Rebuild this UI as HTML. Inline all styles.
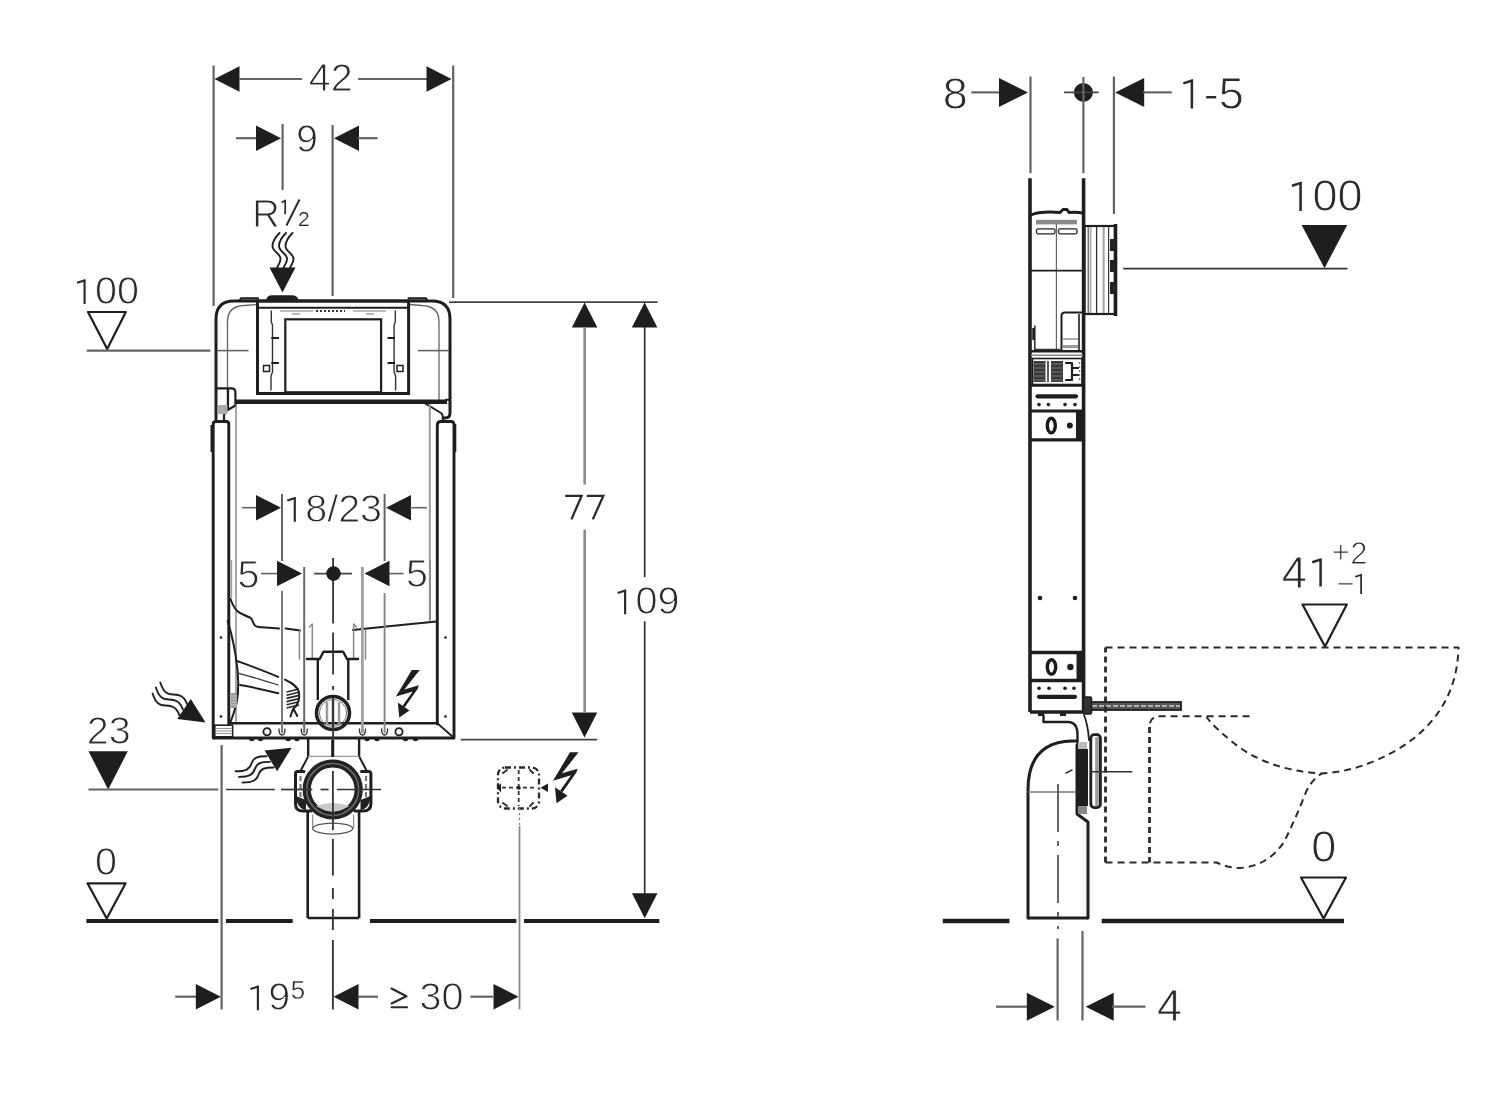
<!DOCTYPE html>
<html><head><meta charset="utf-8"><style>
html,body{margin:0;padding:0;background:#fff;}
svg{display:block;will-change:transform;}
text{font-family:"Liberation Sans",sans-serif;}
</style></head><body>
<svg width="1500" height="1100" viewBox="0 0 1500 1100">
<rect width="1500" height="1100" fill="#fff"/>
<line x1="213.6" y1="65.5" x2="213.6" y2="306" stroke="#646464" stroke-width="2.2" stroke-linecap="butt"/>
<line x1="453.2" y1="65.5" x2="453.2" y2="298" stroke="#646464" stroke-width="2.2" stroke-linecap="butt"/>
<polygon points="214.5,79 239.5,66.25 239.5,91.75" fill="#1e1e1e" stroke="none" stroke-width="0" stroke-linejoin="round"/>
<line x1="239" y1="79" x2="302" y2="79" stroke="#646464" stroke-width="2.2" stroke-linecap="butt"/>
<line x1="358" y1="79" x2="427" y2="79" stroke="#646464" stroke-width="2.2" stroke-linecap="butt"/>
<polygon points="451.5,79 426.5,66.25 426.5,91.75" fill="#1e1e1e" stroke="none" stroke-width="0" stroke-linejoin="round"/>
<text transform="scale(1.04,1)" x="296.81" y="91.2" font-size="38" fill="#2b2b2b" stroke="#fff" stroke-width="0.9">42</text>
<line x1="236" y1="138.2" x2="257" y2="138.2" stroke="#646464" stroke-width="2.2" stroke-linecap="butt"/>
<polygon points="281,138.2 256,125.45 256,150.95" fill="#1e1e1e" stroke="none" stroke-width="0" stroke-linejoin="round"/>
<line x1="282.6" y1="124" x2="282.6" y2="190" stroke="#646464" stroke-width="2.2" stroke-linecap="butt"/>
<line x1="332.6" y1="125" x2="332.6" y2="296" stroke="#646464" stroke-width="2.2" stroke-linecap="butt"/>
<polygon points="334,138.2 359,125.45 359,150.95" fill="#1e1e1e" stroke="none" stroke-width="0" stroke-linejoin="round"/>
<line x1="358" y1="138.2" x2="377.5" y2="138.2" stroke="#646464" stroke-width="2.2" stroke-linecap="butt"/>
<text transform="scale(1.04,1)" x="284.69" y="151.7" font-size="38" fill="#2b2b2b" stroke="#fff" stroke-width="0.9">9</text>
<text x="252.15" y="226.7" font-size="38" fill="#2b2b2b" stroke="#fff" stroke-width="0.9">R</text>
<path d="M285.2 214.3 L285.2 199.8 M285.7 200.3 L281.6 202.6" fill="none" stroke="#2b2b2b" stroke-width="1.7" stroke-linejoin="miter" stroke-linecap="butt" />
<text x="298.1" y="225.7" font-size="21" fill="#2b2b2b" stroke="#fff" stroke-width="0.2">2</text>
<line x1="286.5" y1="225.5" x2="299.5" y2="199.5" stroke="#2b2b2b" stroke-width="2" stroke-linecap="butt"/>
<path d="M279.5 233 C 276.5 236, 272.5 240, 272.5 246 C 272.5 252, 280.5 253, 280.5 259 C 280.5 263, 277.5 266, 277 268" fill="none" stroke="#222" stroke-width="1.9" stroke-linejoin="round" stroke-linecap="round" />
<path d="M286 233 C 283 236, 279 240, 279 246 C 279 252, 287 253, 287 259 C 287 263, 284 266, 283.5 268" fill="none" stroke="#222" stroke-width="1.9" stroke-linejoin="round" stroke-linecap="round" />
<path d="M292.5 233 C 289.5 236, 285.5 240, 285.5 246 C 285.5 252, 293.5 253, 293.5 259 C 293.5 263, 290.5 266, 290 268" fill="none" stroke="#222" stroke-width="1.9" stroke-linejoin="round" stroke-linecap="round" />
<polygon points="282.5,292.6 269.5,267.6 295.5,267.6" fill="#1e1e1e" stroke="none" stroke-width="0" stroke-linejoin="round"/>
<path d="M267.5 300 Q268 296.5 272 296.5 L292 296.5 Q296.5 296.5 297 300" fill="none" stroke="#1e1e1e" stroke-width="2.5" stroke-linejoin="round" stroke-linecap="round" />
<text transform="scale(1.04,1)" x="70.21" y="304.1" font-size="38" fill="#2b2b2b" stroke="#fff" stroke-width="0.9">&#8199;00</text>
<path d="M84.58 304.1 L84.58 279.89 M85.66 280.13 L77.07 282.82" stroke="#2b2b2b" stroke-width="2.17" stroke-linecap="butt" stroke-linejoin="miter" fill="none"/>
<polygon points="88,312 125.8,312 107.2,349" fill="none" stroke="#1e1e1e" stroke-width="2.2" stroke-linejoin="round"/>
<line x1="86.8" y1="350.6" x2="210.4" y2="350.6" stroke="#646464" stroke-width="2.2" stroke-linecap="butt"/>
<line x1="217.6" y1="350.6" x2="248.5" y2="350.6" stroke="#646464" stroke-width="1.6" stroke-linecap="butt"/>
<line x1="418" y1="350.6" x2="448.5" y2="350.6" stroke="#646464" stroke-width="1.6" stroke-linecap="butt"/>
<path d="M216 419 L216 319 Q216 301 234 301 L258 301 M408.6 301 L432 301 Q450 301 450 319 L450 413 Q450 418 445 418 L443 418" fill="none" stroke="#1e1e1e" stroke-width="3" stroke-linejoin="round" stroke-linecap="round" />
<path d="M240 300.5 L241 298.3 L258 298.3 M408.6 298.3 L426 298.3 L427 300.5" fill="none" stroke="#1e1e1e" stroke-width="2.2" stroke-linejoin="round" stroke-linecap="round" />
<path d="M227.5 408 L227.5 322 Q227.5 306 244 305.5 L257 304.5" fill="none" stroke="#646464" stroke-width="1.3" stroke-linejoin="round" stroke-linecap="round" />
<path d="M439 400 L439 322 Q439 306 422 305.5 L409 304.5" fill="none" stroke="#646464" stroke-width="1.3" stroke-linejoin="round" stroke-linecap="round" />
<line x1="258" y1="301" x2="408.6" y2="301" stroke="#1e1e1e" stroke-width="3" stroke-linecap="butt"/>
<rect x="267.7" y="297" width="27.6" height="4" rx="0" fill="#1e1e1e" stroke="#1e1e1e" stroke-width="0"/>
<rect x="257.5" y="301" width="151.1" height="92.5" rx="0" fill="none" stroke="#1e1e1e" stroke-width="3"/>
<line x1="258" y1="307.8" x2="408" y2="307.8" stroke="#1e1e1e" stroke-width="2" stroke-linecap="butt"/>
<rect x="285.3" y="319.3" width="95.8" height="73" rx="0" fill="none" stroke="#1e1e1e" stroke-width="2.2"/>
<path d="M271.3 311 L271.3 322 L272.5 325 L272.5 372 L271 376 L271 390" fill="none" stroke="#333" stroke-width="1.4" stroke-linejoin="round" stroke-linecap="round" />
<path d="M395.3 311 L395.3 322 L394.1 325 L394.1 372 L395.6 376 L395.6 390" fill="none" stroke="#333" stroke-width="1.4" stroke-linejoin="round" stroke-linecap="round" />
<line x1="271.3" y1="338" x2="279" y2="338" stroke="#1e1e1e" stroke-width="2" stroke-linecap="butt"/>
<line x1="271.3" y1="363" x2="279" y2="363" stroke="#1e1e1e" stroke-width="2" stroke-linecap="butt"/>
<line x1="387.5" y1="338" x2="395" y2="338" stroke="#1e1e1e" stroke-width="2" stroke-linecap="butt"/>
<line x1="387.5" y1="363" x2="395" y2="363" stroke="#1e1e1e" stroke-width="2" stroke-linecap="butt"/>
<rect x="263.5" y="365.5" width="6" height="6" rx="0" fill="none" stroke="#1e1e1e" stroke-width="1.5"/>
<rect x="397" y="365.5" width="6" height="6" rx="0" fill="none" stroke="#1e1e1e" stroke-width="1.5"/>
<line x1="280" y1="311" x2="313" y2="311" stroke="#aaa" stroke-width="1.4" stroke-linecap="butt"/>
<line x1="316" y1="311" x2="345" y2="311" stroke="#333" stroke-width="2" stroke-linecap="butt" stroke-dasharray="2 2"/>
<line x1="353" y1="311" x2="386" y2="311" stroke="#aaa" stroke-width="1.4" stroke-linecap="butt"/>
<line x1="292" y1="314" x2="300" y2="314" stroke="#999" stroke-width="1.4" stroke-linecap="butt"/>
<line x1="366" y1="314" x2="374" y2="314" stroke="#999" stroke-width="1.4" stroke-linecap="butt"/>
<line x1="236" y1="401.8" x2="447" y2="401.8" stroke="#1e1e1e" stroke-width="4.5" stroke-linecap="butt"/>
<path d="M216 388.3 L231.5 388.3 Q235.4 388.3 235.4 392 L235.4 405.5 L226 411 Q224 413 224 416 L224 421" fill="none" stroke="#1e1e1e" stroke-width="2.2" stroke-linejoin="round" stroke-linecap="round" />
<line x1="228" y1="388" x2="228" y2="409" stroke="#1e1e1e" stroke-width="2.2" stroke-linecap="butt"/>
<rect x="217.5" y="405" width="10" height="9" rx="0" fill="#aaa" stroke="#1e1e1e" stroke-width="0"/>
<path d="M424.5 403 L441 413 Q443 414.5 443 417 L443 421" fill="none" stroke="#1e1e1e" stroke-width="2" stroke-linejoin="round" stroke-linecap="round" />
<line x1="445" y1="399.8" x2="450" y2="399.8" stroke="#1e1e1e" stroke-width="2" stroke-linecap="butt"/>
<line x1="449" y1="302.2" x2="456" y2="302.2" stroke="#444" stroke-width="1.8" stroke-linecap="butt"/>
<path d="M213.2 738 L213.2 424 Q213.2 421.5 216 421.5 L226 421.5 Q228.8 421.5 228.8 424 L228.8 724" fill="none" stroke="#1e1e1e" stroke-width="2.9" stroke-linejoin="round" stroke-linecap="round" />
<line x1="211.5" y1="425" x2="211.5" y2="452" stroke="#1e1e1e" stroke-width="2" stroke-linecap="butt"/>
<path d="M437.3 724 L437.3 425 Q437.3 421.5 441 421.5 L451 421.5 Q454 421.5 454 425 L454 738" fill="none" stroke="#1e1e1e" stroke-width="2.9" stroke-linejoin="round" stroke-linecap="round" />
<line x1="454.8" y1="424" x2="454.8" y2="452" stroke="#1e1e1e" stroke-width="3" stroke-linecap="butt"/>
<line x1="236" y1="404" x2="236" y2="722" stroke="#777" stroke-width="1.3" stroke-linecap="butt"/>
<line x1="429.8" y1="404" x2="429.8" y2="621" stroke="#9a9a9a" stroke-width="2" stroke-linecap="butt"/>
<line x1="213.2" y1="738" x2="454" y2="738" stroke="#1e1e1e" stroke-width="3" stroke-linecap="butt"/>
<line x1="228.8" y1="723.3" x2="437.3" y2="723.3" stroke="#1e1e1e" stroke-width="2.6" stroke-linecap="butt"/>
<line x1="437.3" y1="723.3" x2="453" y2="737" stroke="#1e1e1e" stroke-width="1.8" stroke-linecap="butt"/>
<rect x="214.8" y="725.2" width="17.8" height="11.6" rx="0" fill="none" stroke="#1e1e1e" stroke-width="1.6"/>
<line x1="216" y1="728.5" x2="231.5" y2="728.5" stroke="#999" stroke-width="1.1" stroke-linecap="butt"/>
<line x1="216" y1="731" x2="231.5" y2="731" stroke="#999" stroke-width="1.1" stroke-linecap="butt"/>
<line x1="216" y1="733.5" x2="231.5" y2="733.5" stroke="#999" stroke-width="1.1" stroke-linecap="butt"/>
<circle cx="267" cy="731.8" r="3.6" fill="none" stroke="#1e1e1e" stroke-width="1.8"/>
<circle cx="399" cy="731.8" r="3.6" fill="none" stroke="#1e1e1e" stroke-width="1.8"/>
<path d="M279 729 Q279 735 282 735 Q285 735 285 729" fill="none" stroke="#333" stroke-width="1.3" stroke-linejoin="round" stroke-linecap="round" />
<path d="M301.3 729 Q301.3 735 304.3 735 Q307.3 735 307.3 729" fill="none" stroke="#333" stroke-width="1.3" stroke-linejoin="round" stroke-linecap="round" />
<path d="M359.4 729 Q359.4 735 362.4 735 Q365.4 735 365.4 729" fill="none" stroke="#333" stroke-width="1.3" stroke-linejoin="round" stroke-linecap="round" />
<path d="M381.6 729 Q381.6 735 384.6 735 Q387.6 735 387.6 729" fill="none" stroke="#333" stroke-width="1.3" stroke-linejoin="round" stroke-linecap="round" />
<path d="M249 738.5 A2.8 2.8 0 0 0 254.6 738.5 Z" fill="#1e1e1e"/>
<path d="M257.7 738.5 A2.8 2.8 0 0 0 263.3 738.5 Z" fill="#1e1e1e"/>
<path d="M285.4 738.5 A2.8 2.8 0 0 0 291 738.5 Z" fill="#1e1e1e"/>
<path d="M294.1 738.5 A2.8 2.8 0 0 0 299.7 738.5 Z" fill="#1e1e1e"/>
<path d="M364.2 738.5 A2.8 2.8 0 0 0 369.8 738.5 Z" fill="#1e1e1e"/>
<path d="M374.2 738.5 A2.8 2.8 0 0 0 379.8 738.5 Z" fill="#1e1e1e"/>
<path d="M402.7 738.5 A2.8 2.8 0 0 0 408.3 738.5 Z" fill="#1e1e1e"/>
<path d="M412.7 738.5 A2.8 2.8 0 0 0 418.3 738.5 Z" fill="#1e1e1e"/>
<circle cx="221" cy="637.5" r="1.3" fill="#1e1e1e" stroke="none" stroke-width="0"/>
<circle cx="445.5" cy="637.5" r="1.3" fill="#1e1e1e" stroke="none" stroke-width="0"/>
<circle cx="221" cy="716.5" r="1.3" fill="#1e1e1e" stroke="none" stroke-width="0"/>
<circle cx="445.5" cy="716.5" r="1.3" fill="#1e1e1e" stroke="none" stroke-width="0"/>
<path d="M230.5 599 C 233 606, 236 611, 240 613 C 244 615, 247 616.5, 250 617.5 C 253 619, 252.5 623, 254.5 625 C 256 627, 258 627, 262 627.3 L 279 628.4" fill="none" stroke="#1e1e1e" stroke-width="2" stroke-linejoin="round" stroke-linecap="round" />
<path d="M285.5 628.5 L 300 630.5" fill="none" stroke="#1e1e1e" stroke-width="2" stroke-linejoin="round" stroke-linecap="round" />
<path d="M353 630 C 380 627, 410 624, 436.5 621.5" fill="none" stroke="#1e1e1e" stroke-width="2" stroke-linejoin="round" stroke-linecap="round" />
<line x1="430.3" y1="560" x2="430.3" y2="620" stroke="#888" stroke-width="1.4" stroke-linecap="butt"/>
<line x1="231.5" y1="560" x2="231.5" y2="598" stroke="#999" stroke-width="1.4" stroke-linecap="butt"/>
<path d="M299.4 630.5 L299.4 659 M312.3 659 L312.3 624 L309.5 627" fill="none" stroke="#888" stroke-width="1.5" stroke-linejoin="round" stroke-linecap="round" />
<path d="M353.6 659 L353.6 624 L356.5 627 M365.5 630 L365.5 659" fill="none" stroke="#888" stroke-width="1.5" stroke-linejoin="round" stroke-linecap="round" />
<path d="M227.7 621 C 232 635, 236 655, 237.5 670 C 239 685, 238.5 700, 234 712 C 233 716, 231.5 719, 230.5 722" fill="none" stroke="#1e1e1e" stroke-width="2" stroke-linejoin="round" stroke-linecap="round" />
<path d="M235.9 660.5 C 248 665, 262 670, 278.2 676.9" fill="none" stroke="#1e1e1e" stroke-width="2" stroke-linejoin="round" stroke-linecap="round" />
<path d="M237.3 672.8 C 252 677, 266 681, 278.2 685" fill="none" stroke="#333" stroke-width="1.3" stroke-linejoin="round" stroke-linecap="round" />
<path d="M240 685 C 252 687, 265 690, 278.2 693.2" fill="none" stroke="#1e1e1e" stroke-width="2" stroke-linejoin="round" stroke-linecap="round" />
<path d="M285 679.6 C 292 683, 297 686, 299 692 C 300 700, 297 706, 293 709 L 290.5 716.5 M 293.5 709 L 297.3 716" fill="none" stroke="#1e1e1e" stroke-width="2" stroke-linejoin="round" stroke-linecap="round" />
<line x1="286.5" y1="692" x2="299" y2="689" stroke="#2a2a2a" stroke-width="1.6" stroke-linecap="butt"/>
<line x1="286.5" y1="695.2" x2="299" y2="692.2" stroke="#2a2a2a" stroke-width="1.6" stroke-linecap="butt"/>
<line x1="286.5" y1="698.4" x2="299" y2="695.4" stroke="#2a2a2a" stroke-width="1.6" stroke-linecap="butt"/>
<line x1="286.5" y1="701.6" x2="299" y2="698.6" stroke="#2a2a2a" stroke-width="1.6" stroke-linecap="butt"/>
<line x1="286.5" y1="704.8" x2="299" y2="701.8" stroke="#2a2a2a" stroke-width="1.6" stroke-linecap="butt"/>
<line x1="286.5" y1="708" x2="299" y2="705" stroke="#2a2a2a" stroke-width="1.6" stroke-linecap="butt"/>
<rect x="230.5" y="693" width="6.5" height="15" rx="0" fill="#9a9a9a" stroke="#1e1e1e" stroke-width="0"/>
<line x1="230.5" y1="696" x2="237" y2="696" stroke="#ddd" stroke-width="0.7" stroke-linecap="butt"/>
<line x1="230.5" y1="699" x2="237" y2="699" stroke="#ddd" stroke-width="0.7" stroke-linecap="butt"/>
<line x1="230.5" y1="702" x2="237" y2="702" stroke="#ddd" stroke-width="0.7" stroke-linecap="butt"/>
<line x1="230.5" y1="705" x2="237" y2="705" stroke="#ddd" stroke-width="0.7" stroke-linecap="butt"/>
<path d="M306.9 659 L319.7 659 L323.5 651.8 L343.2 651.8 L347 659 L358 659" fill="none" stroke="#1e1e1e" stroke-width="2.4" stroke-linejoin="round" stroke-linecap="round" />
<line x1="317.8" y1="659" x2="317.8" y2="700" stroke="#1e1e1e" stroke-width="2.4" stroke-linecap="butt"/>
<line x1="348.3" y1="659" x2="348.3" y2="700" stroke="#1e1e1e" stroke-width="2.4" stroke-linecap="butt"/>
<circle cx="333" cy="713" r="16.5" fill="none" stroke="#222" stroke-width="3.6"/>
<circle cx="333" cy="713" r="13.6" fill="none" stroke="#777" stroke-width="1"/>
<line x1="327" y1="702" x2="327" y2="724" stroke="#999" stroke-width="2.5" stroke-linecap="butt"/>
<line x1="339" y1="702" x2="339" y2="724" stroke="#999" stroke-width="2.5" stroke-linecap="butt"/>
<line x1="333" y1="700" x2="333" y2="727" stroke="#555" stroke-width="2.5" stroke-linecap="butt"/>
<line x1="282" y1="591" x2="282" y2="733" stroke="#7a7a7a" stroke-width="2" stroke-linecap="butt"/>
<line x1="304.2" y1="567" x2="304.2" y2="733" stroke="#6a6a6a" stroke-width="2" stroke-linecap="butt"/>
<line x1="362.4" y1="567" x2="362.4" y2="733" stroke="#a0a0a0" stroke-width="2.8" stroke-linecap="butt"/>
<line x1="384.6" y1="593" x2="384.6" y2="733" stroke="#8a8a8a" stroke-width="2" stroke-linecap="butt"/>
<line x1="282" y1="494" x2="282" y2="561" stroke="#666" stroke-width="2" stroke-linecap="butt"/>
<line x1="384.6" y1="494" x2="384.6" y2="561" stroke="#666" stroke-width="2" stroke-linecap="butt"/>
<line x1="333.1" y1="558" x2="333.1" y2="623.6" stroke="#333" stroke-width="1.8" stroke-linecap="butt"/>
<line x1="333.1" y1="632.5" x2="333.1" y2="674.5" stroke="#333" stroke-width="1.8" stroke-linecap="butt"/>
<line x1="333.1" y1="686" x2="333.1" y2="690" stroke="#333" stroke-width="1.8" stroke-linecap="butt"/>
<line x1="333.1" y1="698" x2="333.1" y2="740" stroke="#333" stroke-width="1.8" stroke-linecap="butt"/>
<line x1="242" y1="507.7" x2="257" y2="507.7" stroke="#646464" stroke-width="1.6" stroke-linecap="butt"/>
<polygon points="281,507.7 256,494.95 256,520.45" fill="#1e1e1e" stroke="none" stroke-width="0" stroke-linejoin="round"/>
<polygon points="386,507.7 411,494.95 411,520.45" fill="#1e1e1e" stroke="none" stroke-width="0" stroke-linejoin="round"/>
<line x1="410" y1="507.7" x2="427" y2="507.7" stroke="#646464" stroke-width="1.6" stroke-linecap="butt"/>
<text transform="scale(1.04,1)" x="272.34" y="521.8" font-size="38" fill="#2b2b2b" stroke="#fff" stroke-width="0.9">&#8199;8/23</text>
<path d="M294.79 521.8 L294.79 497.59 M295.87 497.83 L287.28 500.52" stroke="#2b2b2b" stroke-width="2.17" stroke-linecap="butt" stroke-linejoin="miter" fill="none"/>
<text transform="scale(1.04,1)" x="228.35" y="587.6" font-size="38" fill="#2b2b2b" stroke="#fff" stroke-width="0.9">5</text>
<line x1="261" y1="573.6" x2="277" y2="573.6" stroke="#646464" stroke-width="1.6" stroke-linecap="butt"/>
<polygon points="302,573.6 277,560.85 277,586.35" fill="#1e1e1e" stroke="none" stroke-width="0" stroke-linejoin="round"/>
<line x1="314" y1="573.6" x2="352" y2="573.6" stroke="#444" stroke-width="1.6" stroke-linecap="butt"/>
<circle cx="333.5" cy="573.6" r="7.3" fill="#1e1e1e" stroke="none" stroke-width="0"/>
<polygon points="364.5,573.6 389.5,560.85 389.5,586.35" fill="#1e1e1e" stroke="none" stroke-width="0" stroke-linejoin="round"/>
<line x1="389" y1="573.6" x2="403.6" y2="573.6" stroke="#646464" stroke-width="1.6" stroke-linecap="butt"/>
<text transform="scale(1.04,1)" x="390.46" y="587.3" font-size="38" fill="#2b2b2b" stroke="#fff" stroke-width="0.9">5</text>
<polygon points="411.8,670 419.7,670 404.36,689.53 418.78,685.35 417.85,688.6 404.82,707.2 402.5,705.8 412.73,691.39 395.99,696.5" fill="#1e1e1e" stroke="none" stroke-width="0" stroke-linejoin="round"/>
<polygon points="397.85,702.55 409.48,710.46 399.25,717.43" fill="#1e1e1e" stroke="none" stroke-width="0" stroke-linejoin="round"/>
<path d="M160.3 682.5 C 163.3 691.5, 166.3 694.5, 173.3 694.5 C 180.3 694.5, 184.3 696.5, 187.3 704.5" fill="none" stroke="#222" stroke-width="1.9" stroke-linejoin="round" stroke-linecap="round" />
<path d="M155.9 687.5 C 158.9 696.5, 161.9 699.5, 168.9 699.5 C 175.9 699.5, 179.9 701.5, 182.9 709.5" fill="none" stroke="#222" stroke-width="1.9" stroke-linejoin="round" stroke-linecap="round" />
<path d="M152.6 693.5 C 155.6 702.5, 158.6 705.5, 165.6 705.5 C 172.6 705.5, 176.6 707.5, 179.6 715.5" fill="none" stroke="#222" stroke-width="1.9" stroke-linejoin="round" stroke-linecap="round" />
<polygon points="205.6,722.4 177.2,719.1 190.8,698.9" fill="#1e1e1e" stroke="none" stroke-width="0" stroke-linejoin="round"/>
<line x1="308.2" y1="738" x2="308.2" y2="756.4" stroke="#1e1e1e" stroke-width="2.4" stroke-linecap="butt"/>
<line x1="359.1" y1="738" x2="359.1" y2="756.4" stroke="#1e1e1e" stroke-width="2.4" stroke-linecap="butt"/>
<path d="M308.2 756.4 L300.5 771 M359.1 756.4 L366.8 771" fill="none" stroke="#1e1e1e" stroke-width="2" stroke-linejoin="round" stroke-linecap="round" />
<line x1="308.2" y1="756.4" x2="359.1" y2="756.4" stroke="#999" stroke-width="1.2" stroke-linecap="butt"/>
<line x1="332.7" y1="740" x2="332.7" y2="757" stroke="#1e1e1e" stroke-width="3" stroke-linecap="butt"/>
<path d="M304 771.4 L297.5 771.4 Q295.5 771.4 295.5 774 L295.5 804 Q295.5 811 303 811 L311 811" fill="#fff" stroke="#1e1e1e" stroke-width="3" stroke-linejoin="round" stroke-linecap="round" />
<path d="M361.5 771.4 L368.5 771.4 Q370.9 771.4 370.9 774 L370.9 804 Q370.9 811 363 811 L355 811" fill="#fff" stroke="#1e1e1e" stroke-width="3" stroke-linejoin="round" stroke-linecap="round" />
<path d="M296 796 Q297 809 306 810 L306 800 Z" fill="#222" stroke="none" stroke-width="0" stroke-linejoin="round" stroke-linecap="round" />
<path d="M370.5 796 Q369.5 809 360.5 810 L360.5 800 Z" fill="#222" stroke="none" stroke-width="0" stroke-linejoin="round" stroke-linecap="round" />
<line x1="300.5" y1="776" x2="300.5" y2="800" stroke="#777" stroke-width="2.2" stroke-linecap="butt" stroke-dasharray="5 3"/>
<line x1="366" y1="776" x2="366" y2="800" stroke="#777" stroke-width="2.2" stroke-linecap="butt" stroke-dasharray="5 3"/>
<circle cx="332.7" cy="789.5" r="26" fill="#fff" stroke="#222" stroke-width="8.2"/>
<circle cx="332.7" cy="789.5" r="26" fill="none" stroke="#6a6a6a" stroke-width="1.6"/>
<path d="M316 806 Q332.7 800 349.5 806 Q340 811.5 332.7 811.5 Q325 811.5 316 806 Z" fill="#c8c8c8" stroke="none" stroke-width="0" stroke-linejoin="round" stroke-linecap="round" />
<line x1="307.7" y1="811" x2="307.7" y2="918" stroke="#1e1e1e" stroke-width="2.6" stroke-linecap="butt"/>
<line x1="359.1" y1="811" x2="359.1" y2="918" stroke="#1e1e1e" stroke-width="2.6" stroke-linecap="butt"/>
<line x1="307.7" y1="918" x2="359.1" y2="918" stroke="#1e1e1e" stroke-width="2.6" stroke-linecap="butt"/>
<line x1="312.7" y1="814.5" x2="312.7" y2="828" stroke="#888" stroke-width="1.2" stroke-linecap="butt"/>
<line x1="353.6" y1="814.5" x2="353.6" y2="828" stroke="#888" stroke-width="1.2" stroke-linecap="butt"/>
<ellipse cx="332.7" cy="828.6" rx="20" ry="5.5" fill="none" stroke="#555" stroke-width="1.3"/>
<line x1="226" y1="789.5" x2="274.8" y2="789.5" stroke="#333" stroke-width="1.7" stroke-linecap="butt"/>
<line x1="281" y1="789.5" x2="312.3" y2="789.5" stroke="#333" stroke-width="1.7" stroke-linecap="butt"/>
<line x1="320.5" y1="789.5" x2="328.6" y2="789.5" stroke="#333" stroke-width="1.7" stroke-linecap="butt"/>
<line x1="336.8" y1="789.5" x2="381" y2="789.5" stroke="#333" stroke-width="1.7" stroke-linecap="butt"/>
<line x1="332.9" y1="771" x2="332.9" y2="830" stroke="#333" stroke-width="1.8" stroke-linecap="butt"/>
<line x1="332.9" y1="839" x2="332.9" y2="875.5" stroke="#333" stroke-width="1.8" stroke-linecap="butt"/>
<line x1="332.9" y1="888" x2="332.9" y2="899" stroke="#333" stroke-width="1.8" stroke-linecap="butt"/>
<line x1="332.9" y1="909" x2="332.9" y2="930" stroke="#333" stroke-width="1.8" stroke-linecap="butt"/>
<line x1="332.9" y1="940" x2="332.9" y2="1009.5" stroke="#333" stroke-width="1.8" stroke-linecap="butt"/>
<path d="M235.6 771.3 C 245.6 771.3, 249.6 769.3, 251.6 763.3 C 253.6 757.3, 257.6 756.3, 266.6 756.3" fill="none" stroke="#222" stroke-width="1.9" stroke-linejoin="round" stroke-linecap="round" />
<path d="M238.9 776.9 C 248.9 776.9, 252.9 774.9, 254.9 768.9 C 256.9 762.9, 260.9 761.9, 269.9 761.9" fill="none" stroke="#222" stroke-width="1.9" stroke-linejoin="round" stroke-linecap="round" />
<path d="M242.6 782.5 C 252.6 782.5, 256.6 780.5, 258.6 774.5 C 260.6 768.5, 264.6 767.5, 273.6 767.5" fill="none" stroke="#222" stroke-width="1.9" stroke-linejoin="round" stroke-linecap="round" />
<polygon points="291.6,747.7 264.5,750.5 277.1,771.3" fill="#1e1e1e" stroke="none" stroke-width="0" stroke-linejoin="round"/>
<text transform="scale(1.04,1)" x="83.52" y="744" font-size="38" fill="#2b2b2b" stroke="#fff" stroke-width="0.9">23</text>
<polygon points="88.5,751.3 127.8,751.3 108.2,789.5" fill="#1e1e1e" stroke="none" stroke-width="0" stroke-linejoin="round"/>
<line x1="88.5" y1="789.5" x2="218.4" y2="789.5" stroke="#646464" stroke-width="2.2" stroke-linecap="butt"/>
<text transform="scale(1.04,1)" x="91.42" y="875" font-size="38" fill="#2b2b2b" stroke="#fff" stroke-width="0.9">0</text>
<polygon points="87.5,883.3 125.6,883.3 106.7,918.5" fill="none" stroke="#1e1e1e" stroke-width="2.2" stroke-linejoin="round"/>
<line x1="86.4" y1="921" x2="218.4" y2="921" stroke="#1e1e1e" stroke-width="4.2" stroke-linecap="butt"/>
<line x1="226" y1="921" x2="292.7" y2="921" stroke="#1e1e1e" stroke-width="4.2" stroke-linecap="butt"/>
<line x1="370" y1="921" x2="516.4" y2="921" stroke="#1e1e1e" stroke-width="4.2" stroke-linecap="butt"/>
<line x1="524" y1="921" x2="659.3" y2="921" stroke="#1e1e1e" stroke-width="4.2" stroke-linecap="butt"/>
<line x1="221.6" y1="745" x2="221.6" y2="1009.5" stroke="#646464" stroke-width="2.2" stroke-linecap="butt"/>
<line x1="455" y1="302.2" x2="657.6" y2="302.2" stroke="#444" stroke-width="1.8" stroke-linecap="butt"/>
<line x1="460.7" y1="739.6" x2="597.1" y2="739.6" stroke="#444" stroke-width="1.8" stroke-linecap="butt"/>
<polygon points="584.6,302.5 571.85,327.5 597.35,327.5" fill="#1e1e1e" stroke="none" stroke-width="0" stroke-linejoin="round"/>
<polygon points="584.5,737.5 571.75,712.5 597.25,712.5" fill="#1e1e1e" stroke="none" stroke-width="0" stroke-linejoin="round"/>
<line x1="584.7" y1="327" x2="584.7" y2="484.5" stroke="#8c8c8c" stroke-width="2.6" stroke-linecap="butt"/>
<line x1="584.7" y1="529.6" x2="584.7" y2="713" stroke="#8c8c8c" stroke-width="2.6" stroke-linecap="butt"/>
<path d="M565.2 495.9 L581.6 495.9 L571.4 519.4 M586.8 495.9 L603.3 495.9 L592.8 519.4" fill="none" stroke="#2b2b2b" stroke-width="2.3" stroke-linejoin="miter" stroke-linecap="butt" />
<polygon points="644.6,302.5 631.85,327.5 657.35,327.5" fill="#1e1e1e" stroke="none" stroke-width="0" stroke-linejoin="round"/>
<polygon points="644.7,918.3 631.95,893.3 657.45,893.3" fill="#1e1e1e" stroke="none" stroke-width="0" stroke-linejoin="round"/>
<line x1="644.7" y1="327" x2="644.7" y2="577" stroke="#333" stroke-width="1.7" stroke-linecap="butt"/>
<line x1="644.7" y1="621.3" x2="644.7" y2="894" stroke="#333" stroke-width="1.7" stroke-linecap="butt"/>
<text transform="scale(1.04,1)" x="589.97" y="614.3" font-size="38" fill="#2b2b2b" stroke="#fff" stroke-width="0.9">&#8199;09</text>
<path d="M625.13 614.3 L625.13 590.09 M626.21 590.33 L617.62 593.02" stroke="#2b2b2b" stroke-width="2.17" stroke-linecap="butt" stroke-linejoin="miter" fill="none"/>
<rect x="498" y="767.5" width="41" height="41" rx="7" fill="none" stroke="#2a2a2a" stroke-width="2.3" stroke-dasharray="6 3 2 3"/>
<path d="M503 773 L507 770 M533 773 L530 770 M503 803 L507 806 M533 803 L530 806" fill="none" stroke="#333" stroke-width="2" stroke-linejoin="round" stroke-linecap="round" />
<line x1="502" y1="787.7" x2="536" y2="787.7" stroke="#333" stroke-width="1.8" stroke-linecap="butt" stroke-dasharray="4 3"/>
<line x1="518.7" y1="770" x2="518.7" y2="806" stroke="#333" stroke-width="1.8" stroke-linecap="butt" stroke-dasharray="4 3"/>
<circle cx="518.7" cy="787.7" r="2" fill="#222" stroke="none" stroke-width="0"/>
<polygon points="540.5,787.7 548,783.5 548,792" fill="#1e1e1e" stroke="none" stroke-width="0" stroke-linejoin="round"/>
<polygon points="497,787.7 501,783 501,792.5" fill="#1e1e1e" stroke="none" stroke-width="0" stroke-linejoin="round"/>
<line x1="519.5" y1="808" x2="519.5" y2="826" stroke="#777" stroke-width="1.3" stroke-linecap="butt" stroke-dasharray="2 3"/>
<line x1="519.5" y1="826" x2="519.5" y2="1009.5" stroke="#8a8a8a" stroke-width="1.8" stroke-linecap="butt"/>
<polygon points="570,752.3 578.5,752.3 562,773.3 577.5,768.8 576.5,772.3 562.5,792.3 560,790.8 571,775.3 553,780.8" fill="#1e1e1e" stroke="none" stroke-width="0" stroke-linejoin="round"/>
<polygon points="555,787.3 567.5,795.8 556.5,803.3" fill="#1e1e1e" stroke="none" stroke-width="0" stroke-linejoin="round"/>
<line x1="175.2" y1="996.7" x2="196" y2="996.7" stroke="#646464" stroke-width="2.2" stroke-linecap="butt"/>
<polygon points="220.8,996.7 195.8,983.95 195.8,1009.45" fill="#1e1e1e" stroke="none" stroke-width="0" stroke-linejoin="round"/>
<text transform="scale(1.04,1)" x="236.87" y="1010.3" font-size="38" fill="#2b2b2b" stroke="#fff" stroke-width="0.9">&#8199;9</text>
<path d="M257.9 1010.3 L257.9 986.09 M258.98 986.33 L250.39 989.02" stroke="#2b2b2b" stroke-width="2.17" stroke-linecap="butt" stroke-linejoin="miter" fill="none"/>
<text x="290.85" y="998.6" font-size="26" fill="#2b2b2b" stroke="#fff" stroke-width="0.4">5</text>
<polygon points="333.5,996.7 358.5,983.95 358.5,1009.45" fill="#1e1e1e" stroke="none" stroke-width="0" stroke-linejoin="round"/>
<line x1="358" y1="996.7" x2="378" y2="996.7" stroke="#646464" stroke-width="2.2" stroke-linecap="butt"/>
<path d="M391.5 988.5 L406.5 996.3 L391.5 1003.5 M391.5 1007.3 L407 1007.3" fill="none" stroke="#2b2b2b" stroke-width="2.1" stroke-linejoin="round" stroke-linecap="round" />
<text transform="scale(1.04,1)" x="403.28" y="1009.7" font-size="38" fill="#2b2b2b" stroke="#fff" stroke-width="0.9">30</text>
<line x1="470.4" y1="996.7" x2="493" y2="996.7" stroke="#646464" stroke-width="2.2" stroke-linecap="butt"/>
<polygon points="518.5,996.7 493.5,983.95 493.5,1009.45" fill="#1e1e1e" stroke="none" stroke-width="0" stroke-linejoin="round"/>
<text x="942.65" y="108.6" font-size="45" fill="#2b2b2b" stroke="#fff" stroke-width="0.9">8</text>
<line x1="971.3" y1="92.4" x2="1000" y2="92.4" stroke="#646464" stroke-width="2.2" stroke-linecap="butt"/>
<polygon points="1028,92.4 999,77.9 999,106.9" fill="#1e1e1e" stroke="none" stroke-width="0" stroke-linejoin="round"/>
<line x1="1030.5" y1="76.5" x2="1030.5" y2="173.2" stroke="#646464" stroke-width="2.2" stroke-linecap="butt"/>
<circle cx="1083.4" cy="92.4" r="9.5" fill="#1e1e1e" stroke="none" stroke-width="0"/>
<line x1="1064" y1="92.4" x2="1098.6" y2="92.4" stroke="#444" stroke-width="1.8" stroke-linecap="butt"/>
<line x1="1083.4" y1="77" x2="1083.4" y2="173.2" stroke="#646464" stroke-width="2.2" stroke-linecap="butt"/>
<line x1="1113.9" y1="76.5" x2="1113.9" y2="214" stroke="#646464" stroke-width="2.2" stroke-linecap="butt"/>
<polygon points="1115.2,92.4 1144.2,77.9 1144.2,106.9" fill="#1e1e1e" stroke="none" stroke-width="0" stroke-linejoin="round"/>
<line x1="1143" y1="92.4" x2="1171.8" y2="92.4" stroke="#646464" stroke-width="2.2" stroke-linecap="butt"/>
<text x="1178.7" y="108.6" font-size="45" fill="#2b2b2b" stroke="#fff" stroke-width="0.9">&#8199;-5</text>
<path d="M1191.86 108.6 L1191.86 79.87 M1193.14 80.22 L1183.31 83.4" stroke="#2b2b2b" stroke-width="2.56" stroke-linecap="butt" stroke-linejoin="miter" fill="none"/>
<line x1="1030" y1="178.3" x2="1030" y2="712" stroke="#1e1e1e" stroke-width="3.6" stroke-linecap="butt"/>
<line x1="1083.6" y1="178.3" x2="1083.6" y2="712" stroke="#1e1e1e" stroke-width="3.6" stroke-linecap="butt"/>
<path d="M1031 215 Q1040 211 1060 212.5 L1063 209.5 L1067 209.5 L1069 212.5 Q1078 212 1082 213" fill="none" stroke="#1e1e1e" stroke-width="3" stroke-linejoin="round" stroke-linecap="round" />
<rect x="1036" y="219.8" width="41" height="4.6" rx="0" fill="#8a8a8a" stroke="#1e1e1e" stroke-width="0"/>
<rect x="1036.5" y="228.8" width="18.5" height="5" rx="1.5" fill="none" stroke="#222" stroke-width="1.3"/>
<rect x="1058.5" y="228.8" width="18.5" height="5" rx="1.5" fill="none" stroke="#222" stroke-width="1.3"/>
<line x1="1056.4" y1="224" x2="1056.4" y2="350" stroke="#646464" stroke-width="1.2" stroke-linecap="butt"/>
<line x1="1031" y1="270.6" x2="1082" y2="270.6" stroke="#1e1e1e" stroke-width="1.8" stroke-linecap="butt"/>
<rect x="1084.5" y="226" width="30.5" height="88" rx="0" fill="none" stroke="#1e1e1e" stroke-width="2.2"/>
<line x1="1115.5" y1="224" x2="1115.5" y2="316" stroke="#1e1e1e" stroke-width="3.6" stroke-linecap="butt"/>
<line x1="1088.2" y1="227" x2="1088.2" y2="313" stroke="#555" stroke-width="1.2" stroke-linecap="butt"/>
<line x1="1090.5" y1="227" x2="1090.5" y2="313" stroke="#aaa" stroke-width="1.8" stroke-linecap="butt"/>
<line x1="1096.6" y1="227" x2="1096.6" y2="313" stroke="#333" stroke-width="1.3" stroke-linecap="butt"/>
<line x1="1103.6" y1="227" x2="1103.6" y2="313" stroke="#aaa" stroke-width="2.2" stroke-linecap="butt"/>
<line x1="1108.6" y1="227" x2="1108.6" y2="313" stroke="#333" stroke-width="1.2" stroke-linecap="butt"/>
<rect x="1110" y="239" width="5" height="12" rx="0" fill="#222" stroke="#1e1e1e" stroke-width="0"/>
<rect x="1110" y="260" width="5" height="12" rx="0" fill="#222" stroke="#1e1e1e" stroke-width="0"/>
<rect x="1110" y="282" width="5" height="12" rx="0" fill="#222" stroke="#1e1e1e" stroke-width="0"/>
<path d="M1061.5 350 L1061.5 316 Q1061.5 312.5 1065 312.5 L1082 312.5" fill="none" stroke="#1e1e1e" stroke-width="2" stroke-linejoin="round" stroke-linecap="round" />
<line x1="1079" y1="314" x2="1079" y2="350" stroke="#1e1e1e" stroke-width="1.6" stroke-linecap="butt"/>
<path d="M1034.8 326 L1034.8 349.5 L1059.6 349.5" fill="none" stroke="#333" stroke-width="1.6" stroke-linejoin="round" stroke-linecap="round" />
<line x1="1033.5" y1="328" x2="1033.5" y2="340" stroke="#1e1e1e" stroke-width="2.5" stroke-linecap="butt"/>
<line x1="1063" y1="339" x2="1078" y2="339" stroke="#999" stroke-width="1.6" stroke-linecap="butt"/>
<rect x="1063" y="345" width="15" height="3.2" rx="0" fill="#999" stroke="#1e1e1e" stroke-width="0"/>
<line x1="1031" y1="351.2" x2="1083" y2="351.2" stroke="#1e1e1e" stroke-width="2.4" stroke-linecap="butt"/>
<line x1="1031" y1="355.2" x2="1083" y2="355.2" stroke="#888" stroke-width="1.6" stroke-linecap="butt"/>
<rect x="1032.5" y="358.5" width="49.5" height="26" rx="0" fill="none" stroke="#1e1e1e" stroke-width="1.6"/>
<rect x="1033.5" y="361" width="12" height="21" rx="0" fill="#3a3a3a" stroke="#1e1e1e" stroke-width="0"/>
<rect x="1051" y="361" width="12" height="21" rx="0" fill="#3a3a3a" stroke="#1e1e1e" stroke-width="0"/>
<line x1="1034" y1="364" x2="1045" y2="364" stroke="#888" stroke-width="0.8" stroke-linecap="butt"/>
<line x1="1051.5" y1="364" x2="1062.5" y2="364" stroke="#888" stroke-width="0.8" stroke-linecap="butt"/>
<line x1="1034" y1="368" x2="1045" y2="368" stroke="#888" stroke-width="0.8" stroke-linecap="butt"/>
<line x1="1051.5" y1="368" x2="1062.5" y2="368" stroke="#888" stroke-width="0.8" stroke-linecap="butt"/>
<line x1="1034" y1="372" x2="1045" y2="372" stroke="#888" stroke-width="0.8" stroke-linecap="butt"/>
<line x1="1051.5" y1="372" x2="1062.5" y2="372" stroke="#888" stroke-width="0.8" stroke-linecap="butt"/>
<line x1="1034" y1="376" x2="1045" y2="376" stroke="#888" stroke-width="0.8" stroke-linecap="butt"/>
<line x1="1051.5" y1="376" x2="1062.5" y2="376" stroke="#888" stroke-width="0.8" stroke-linecap="butt"/>
<line x1="1034" y1="380" x2="1045" y2="380" stroke="#888" stroke-width="0.8" stroke-linecap="butt"/>
<line x1="1051.5" y1="380" x2="1062.5" y2="380" stroke="#888" stroke-width="0.8" stroke-linecap="butt"/>
<line x1="1048" y1="361" x2="1048" y2="382" stroke="#333" stroke-width="1.6" stroke-linecap="butt"/>
<path d="M1066 363 L1072 363 L1072 368 L1078 368 M1072 368 L1072 375 L1078 375 M1066 380 L1072 380 L1072 375" fill="none" stroke="#1e1e1e" stroke-width="2.2" stroke-linejoin="round" stroke-linecap="round" />
<line x1="1079.5" y1="362" x2="1079.5" y2="381" stroke="#777" stroke-width="1.4" stroke-linecap="butt" stroke-dasharray="2 2"/>
<line x1="1031" y1="385.5" x2="1083" y2="385.5" stroke="#1e1e1e" stroke-width="2.6" stroke-linecap="butt"/>
<line x1="1037.5" y1="396.3" x2="1076" y2="396.3" stroke="#1e1e1e" stroke-width="4.2" stroke-linecap="round"/>
<circle cx="1039" cy="404.6" r="1.8" fill="#1e1e1e" stroke="none" stroke-width="0"/>
<circle cx="1048.4" cy="404.6" r="1.8" fill="#1e1e1e" stroke="none" stroke-width="0"/>
<circle cx="1065" cy="404.6" r="1.8" fill="#1e1e1e" stroke="none" stroke-width="0"/>
<circle cx="1075" cy="404.6" r="1.8" fill="#1e1e1e" stroke="none" stroke-width="0"/>
<line x1="1031" y1="411" x2="1083" y2="411" stroke="#1e1e1e" stroke-width="3.2" stroke-linecap="butt"/>
<ellipse cx="1051.3" cy="425.6" rx="4" ry="7.3" fill="none" stroke="#1a1a1a" stroke-width="3.4"/>
<circle cx="1069.8" cy="425.6" r="3" fill="#1e1e1e" stroke="none" stroke-width="0"/>
<rect x="1076" y="411" width="8" height="29" rx="0" fill="#1e1e1e" stroke="#1e1e1e" stroke-width="0"/>
<line x1="1031" y1="439.8" x2="1083" y2="439.8" stroke="#1e1e1e" stroke-width="3.2" stroke-linecap="butt"/>
<circle cx="1040" cy="598" r="2.3" fill="#1e1e1e" stroke="none" stroke-width="0"/>
<circle cx="1075" cy="598" r="2.3" fill="#1e1e1e" stroke="none" stroke-width="0"/>
<line x1="1031" y1="652.4" x2="1083" y2="652.4" stroke="#1e1e1e" stroke-width="3.5" stroke-linecap="butt"/>
<ellipse cx="1051.5" cy="667" rx="4.2" ry="7.3" fill="none" stroke="#1a1a1a" stroke-width="3.4"/>
<circle cx="1070.4" cy="667" r="3.2" fill="#1e1e1e" stroke="none" stroke-width="0"/>
<rect x="1076.5" y="652" width="7.5" height="29" rx="0" fill="#1e1e1e" stroke="#1e1e1e" stroke-width="0"/>
<line x1="1031" y1="680.5" x2="1083" y2="680.5" stroke="#1e1e1e" stroke-width="3.5" stroke-linecap="butt"/>
<circle cx="1039" cy="688.3" r="1.8" fill="#1e1e1e" stroke="none" stroke-width="0"/>
<circle cx="1049" cy="688.3" r="1.8" fill="#1e1e1e" stroke="none" stroke-width="0"/>
<circle cx="1065" cy="688.3" r="1.8" fill="#1e1e1e" stroke="none" stroke-width="0"/>
<circle cx="1074" cy="688.3" r="1.8" fill="#1e1e1e" stroke="none" stroke-width="0"/>
<line x1="1039" y1="696.8" x2="1075" y2="696.8" stroke="#1e1e1e" stroke-width="4.2" stroke-linecap="round"/>
<line x1="1030" y1="712" x2="1083.6" y2="712" stroke="#1e1e1e" stroke-width="3.5" stroke-linecap="butt"/>
<rect x="1038" y="712" width="6" height="4" rx="0" fill="#222" stroke="#1e1e1e" stroke-width="0"/>
<rect x="1060" y="712" width="6" height="4" rx="0" fill="#222" stroke="#1e1e1e" stroke-width="0"/>
<rect x="1090" y="702" width="91" height="8" rx="0" fill="#555" stroke="#222" stroke-width="1.8"/>
<line x1="1092" y1="706" x2="1180" y2="706" stroke="#b0b0b0" stroke-width="2.2" stroke-linecap="butt" stroke-dasharray="5 2"/>
<rect x="1083.5" y="697" width="8" height="17" rx="1.5" fill="#333" stroke="#1e1e1e" stroke-width="1.6"/>
<path d="M1043.5 715.5 L1043.5 722 L1068 722 Q1077.5 722 1077.5 735 L1077.5 745" fill="none" stroke="#1e1e1e" stroke-width="2.4" stroke-linejoin="round" stroke-linecap="round" />
<path d="M1084 715 Q1088 725 1089 740" fill="none" stroke="#1e1e1e" stroke-width="1.8" stroke-linejoin="round" stroke-linecap="round" />
<path d="M1028 918 L1028 790 Q1028 742 1072 741 L1077 741" fill="none" stroke="#1e1e1e" stroke-width="3" stroke-linejoin="round" stroke-linecap="round" />
<line x1="1028" y1="918" x2="1088" y2="918" stroke="#1e1e1e" stroke-width="3" stroke-linecap="butt"/>
<path d="M1088 918 L1088 822 L1077 814 L1077 745" fill="none" stroke="#1e1e1e" stroke-width="3" stroke-linejoin="round" stroke-linecap="round" />
<rect x="1077" y="749" width="11" height="57" rx="0" fill="#1e1e1e" stroke="#1e1e1e" stroke-width="0"/>
<rect x="1078" y="806" width="9" height="8" rx="0" fill="#888" stroke="#1e1e1e" stroke-width="0"/>
<rect x="1078" y="742" width="9" height="7" rx="0" fill="#bbb" stroke="#1e1e1e" stroke-width="0"/>
<rect x="1090.8" y="734.6" width="9.6" height="73" rx="3.5" fill="#fff" stroke="#1e1e1e" stroke-width="2.8"/>
<rect x="1095.2" y="737" width="3.6" height="69" rx="0" fill="#9a9a9a" stroke="#1e1e1e" stroke-width="0"/>
<line x1="1090" y1="771.7" x2="1132.3" y2="771.7" stroke="#333" stroke-width="1.6" stroke-linecap="butt"/>
<line x1="1028" y1="792" x2="1076" y2="792" stroke="#777" stroke-width="1.6" stroke-linecap="butt"/>
<path d="M1066 773 L1072 770" fill="none" stroke="#333" stroke-width="1.5" stroke-linejoin="round" stroke-linecap="round" />
<line x1="1058" y1="784" x2="1058" y2="929" stroke="#555" stroke-width="1.8" stroke-linecap="butt" stroke-dasharray="48 9 5 9"/>
<line x1="1057.6" y1="938.4" x2="1057.6" y2="1020.5" stroke="#646464" stroke-width="2.2" stroke-linecap="butt"/>
<line x1="1082.5" y1="931" x2="1082.5" y2="1020.5" stroke="#646464" stroke-width="2.2" stroke-linecap="butt"/>
<line x1="942.8" y1="921" x2="1009.4" y2="921" stroke="#1e1e1e" stroke-width="4.4" stroke-linecap="butt"/>
<line x1="1101.7" y1="921" x2="1344" y2="921" stroke="#1e1e1e" stroke-width="4.4" stroke-linecap="butt"/>
<line x1="996" y1="1006.7" x2="1028" y2="1006.7" stroke="#646464" stroke-width="2.2" stroke-linecap="butt"/>
<polygon points="1054.8,1006.7 1026.8,992.7 1026.8,1020.7" fill="#1e1e1e" stroke="none" stroke-width="0" stroke-linejoin="round"/>
<polygon points="1085.7,1006.7 1113.7,992.7 1113.7,1020.7" fill="#1e1e1e" stroke="none" stroke-width="0" stroke-linejoin="round"/>
<line x1="1112" y1="1006.7" x2="1145.5" y2="1006.7" stroke="#646464" stroke-width="2.2" stroke-linecap="butt"/>
<text x="1156.95" y="1020.8" font-size="45" fill="#2b2b2b" stroke="#fff" stroke-width="0.9">4</text>
<text x="1287.4" y="211" font-size="45" fill="#2b2b2b" stroke="#fff" stroke-width="0.9">&#8199;00</text>
<path d="M1300.56 211 L1300.56 182.28 M1301.85 182.62 L1292.01 185.8" stroke="#2b2b2b" stroke-width="2.56" stroke-linecap="butt" stroke-linejoin="miter" fill="none"/>
<polygon points="1301.6,224.9 1347.2,224.9 1324.5,268.3" fill="#1e1e1e" stroke="none" stroke-width="0" stroke-linejoin="round"/>
<line x1="1123.2" y1="268.6" x2="1347.5" y2="268.6" stroke="#333" stroke-width="1.8" stroke-linecap="butt"/>
<text x="1281.85" y="587.6" font-size="45" fill="#2b2b2b" stroke="#fff" stroke-width="0.9">4</text>
<path d="M1320.6 586.6 L1320.6 558.6 M1321.3 559.4 L1312.2 562.2" fill="none" stroke="#2b2b2b" stroke-width="2.5" stroke-linejoin="miter" stroke-linecap="butt" />
<text x="1331.85" y="563" font-size="31" fill="#2b2b2b" stroke="#fff" stroke-width="0.9">+</text>
<text x="1350.35" y="564" font-size="31" fill="#2b2b2b" stroke="#fff" stroke-width="0.9">2</text>
<text x="1336.35" y="593.8" font-size="31" fill="#2b2b2b" stroke="#fff" stroke-width="0.9">&#8722;</text>
<text x="1352.05" y="594.1" font-size="31" fill="#2b2b2b" stroke="#fff" stroke-width="0.9">&#8199;</text>
<path d="M1361.12 594.1 L1361.12 574.4 M1362 574.55 L1355.23 576.74" stroke="#2b2b2b" stroke-width="1.77" stroke-linecap="butt" stroke-linejoin="miter" fill="none"/>
<polygon points="1302.5,604.5 1346.8,604.5 1325,646.4" fill="none" stroke="#1e1e1e" stroke-width="2.2" stroke-linejoin="round"/>
<text x="1311.25" y="862.3" font-size="45" fill="#2b2b2b" stroke="#fff" stroke-width="0.9">0</text>
<polygon points="1301,877.5 1346,877.5 1323.6,918.5" fill="none" stroke="#1e1e1e" stroke-width="2.2" stroke-linejoin="round"/>
<line x1="1105.5" y1="862.5" x2="1105.5" y2="647.5" stroke="#2a2a2a" stroke-width="2.8" stroke-linecap="butt" stroke-dasharray="6 4"/>
<line x1="1149.5" y1="727" x2="1149.5" y2="862.5" stroke="#2a2a2a" stroke-width="2.8" stroke-linecap="butt" stroke-dasharray="6 4"/>
<path d="M1105.5 647.5 L1458.5 647.5 Q1457 712 1400 748 Q1360 772 1321 773.5 Q1265 770 1230 740 Q1213 726 1206.5 717" fill="none" stroke="#2a2a2a" stroke-width="2" stroke-linejoin="round" stroke-linecap="butt" stroke-dasharray="7 5"/>
<path d="M1249.6 716.2 L1160 716.2 Q1149.5 716.2 1149.5 727" fill="none" stroke="#2a2a2a" stroke-width="2" stroke-linejoin="round" stroke-linecap="butt" stroke-dasharray="7 5"/>
<path d="M1105.5 862.5 L1216.5 862.5 Q1228 868 1240 868 Q1268 866 1284 842 Q1296 818 1306 792 Q1313 778 1322 773.5" fill="none" stroke="#2a2a2a" stroke-width="2" stroke-linejoin="round" stroke-linecap="butt" stroke-dasharray="7 5"/>
</svg>
</body></html>
